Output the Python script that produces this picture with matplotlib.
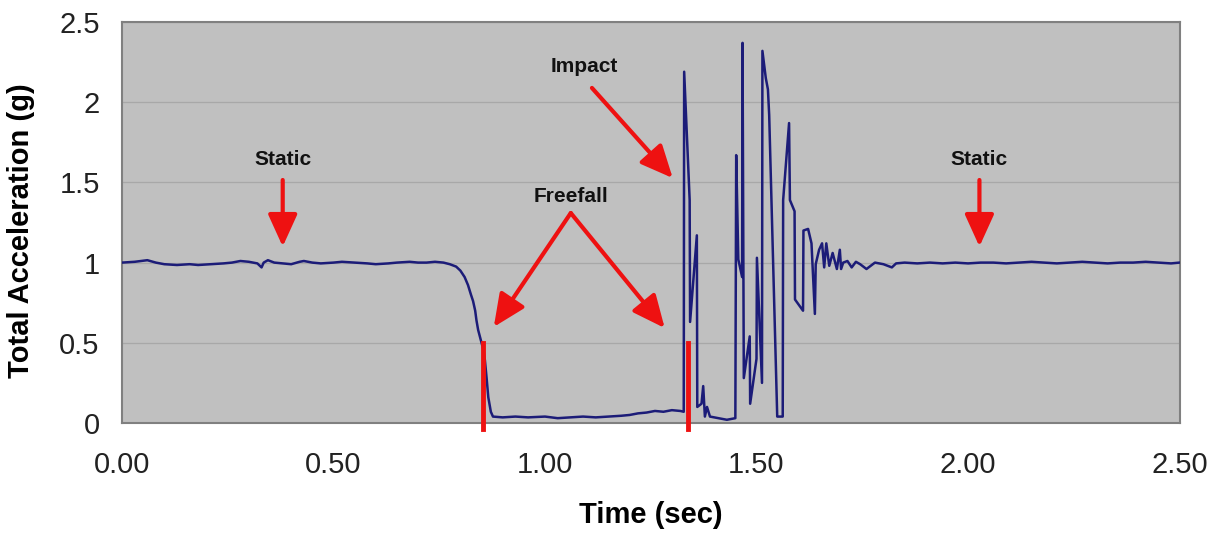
import matplotlib.pyplot as plt

plt.rcParams['font.family'] = ['Liberation Sans', 'DejaVu Sans']

# Datos (tiempo en s, aceleracion total en g)
tiempo = [0.00, 0.03, 0.06, 0.08, 0.10, 0.13, 0.16, 0.18, 0.21, 0.24,
          0.26, 0.28, 0.30, 0.32, 0.33, 0.335, 0.345, 0.36, 0.38, 0.40,
          0.42, 0.43, 0.45, 0.47, 0.50, 0.52, 0.55, 0.58, 0.60, 0.63,
          0.65, 0.68, 0.70, 0.72, 0.74, 0.76, 0.775, 0.79, 0.80, 0.81,
          0.818, 0.825, 0.83, 0.835, 0.838, 0.842, 0.846, 0.85, 0.855, 0.858,
          0.862, 0.866, 0.872, 0.877, 0.90, 0.93, 0.96, 1.00, 1.03, 1.06,
          1.09, 1.12, 1.15, 1.18, 1.20, 1.22, 1.24, 1.26, 1.28, 1.30,
          1.32, 1.328, 1.329, 1.342, 1.343, 1.359, 1.360, 1.370, 1.374, 1.378,
          1.383, 1.39, 1.41, 1.43, 1.45, 1.452, 1.457, 1.466, 1.467, 1.470,
          1.484, 1.485, 1.500, 1.501, 1.513, 1.514, 1.522, 1.527, 1.530, 1.547,
          1.549, 1.562, 1.563, 1.577, 1.579, 1.590, 1.591, 1.610, 1.611, 1.622,
          1.630, 1.638, 1.640, 1.648, 1.655, 1.660, 1.665, 1.672, 1.680, 1.690,
          1.697, 1.700, 1.705, 1.715, 1.725, 1.735, 1.745, 1.76, 1.78, 1.80,
          1.82, 1.83, 1.85, 1.88, 1.91, 1.94, 1.97, 2.00, 2.03, 2.06,
          2.09, 2.12, 2.15, 2.18, 2.21, 2.24, 2.27, 2.30, 2.33, 2.36,
          2.39, 2.42, 2.45, 2.48, 2.50]
aceleracion = [1.00, 1.005, 1.015, 1.00, 0.99, 0.985, 0.99, 0.985, 0.99, 0.995,
               1.00, 1.01, 1.005, 0.995, 0.97, 1.00, 1.015, 1.00, 0.995, 0.99,
               1.005, 1.01, 1.00, 0.995, 1.00, 1.005, 1.00, 0.995, 0.99, 0.995,
               1.00, 1.005, 1.00, 1.00, 1.005, 1.00, 0.99, 0.975, 0.95, 0.91,
               0.86, 0.80, 0.76, 0.70, 0.64, 0.58, 0.54, 0.50, 0.45, 0.39,
               0.28, 0.16, 0.07, 0.04, 0.035, 0.04, 0.035, 0.04, 0.03, 0.035,
               0.04, 0.035, 0.04, 0.045, 0.05, 0.06, 0.065, 0.075, 0.07, 0.08,
               0.075, 0.07, 2.19, 1.39, 0.63, 1.17, 0.10, 0.12, 0.23, 0.04,
               0.10, 0.04, 0.03, 0.02, 0.03, 1.67, 1.02, 0.91, 2.37, 0.28,
               0.54, 0.12, 0.40, 1.03, 0.25, 2.32, 2.15, 2.08, 1.92, 0.25,
               0.04, 0.04, 1.39, 1.87, 1.39, 1.32, 0.77, 0.70, 1.20, 1.21,
               1.12, 0.68, 0.99, 1.08, 1.12, 0.97, 1.12, 0.98, 1.06, 0.96,
               1.08, 0.96, 1.00, 1.01, 0.97, 1.005, 0.99, 0.96, 1.00, 0.99,
               0.97, 0.995, 1.00, 0.995, 1.00, 0.995, 1.00, 0.995, 1.00, 1.00,
               0.995, 1.00, 1.005, 1.00, 0.995, 1.00, 1.005, 1.00, 0.995, 1.00,
               1.00, 1.005, 1.00, 0.995, 1.00]

ticks_x = [0.0, 0.5, 1.0, 1.5, 2.0, 2.5]
etiquetas_x = ['0.00', '0.50', '1.00', '1.50', '2.00', '2.50']
ticks_y = [0, 0.5, 1, 1.5, 2, 2.5]
etiquetas_y = ['0', '0.5', '1', '1.5', '2', '2.5']

# Inicio de caida libre (lineas rojas)
marcas_caida = [0.853, 1.338]

fig = plt.figure(figsize=(12.16, 5.33), dpi=100)
ax = fig.add_axes([0.1003, 0.2064, 0.8697, 0.7523])
ax.set_facecolor('#c0c0c0')

ax.plot(tiempo, aceleracion, color='#1c1c78', lw=1.8, zorder=3)

for t in marcas_caida:
    ax.plot([t, t], [0.5, -0.035], color='#ee1111', lw=3.5, zorder=4, clip_on=False)

ax.set_xlim(0, 2.5)
ax.set_ylim(0, 2.5)
ax.set_xticks(ticks_x)
ax.set_xticklabels(etiquetas_x, fontsize=21)
ax.set_yticks(ticks_y)
ax.set_yticklabels(etiquetas_y, fontsize=21)
ax.tick_params(axis='x', length=0, pad=20, colors='#222222')
ax.tick_params(axis='y', length=0, pad=16, colors='#222222')
ax.grid(axis='y', color='#a8a8a8', lw=0.9)
ax.set_axisbelow(True)
for s in ax.spines.values():
    s.set_color('#808080')
    s.set_linewidth(1.5)

ax.set_xlabel('Time (sec)', fontsize=21, fontweight='bold')
ax.set_ylabel('Total Acceleration (g)', fontsize=21, fontweight='bold')
ax.xaxis.set_label_coords(0.5, -0.195)
ax.yaxis.set_label_coords(-0.082, 0.48)

# Anotaciones con flechas rojas
flecha = dict(arrowstyle='-|>,head_length=1.1,head_width=0.5', color='#ee1111',
              lw=3, mutation_scale=18, shrinkA=0, shrinkB=0)
txt = dict(fontsize=15, fontweight='bold', ha='center', va='center', color='#111111')

ax.text(0.380, 1.64, 'Static', **txt)
ax.annotate('', xy=(0.380, 1.10), xytext=(0.380, 1.515), arrowprops=flecha)
ax.text(2.027, 1.64, 'Static', **txt)
ax.annotate('', xy=(2.027, 1.10), xytext=(2.027, 1.515), arrowprops=flecha)
ax.text(1.092, 2.22, 'Impact', **txt)
ax.annotate('', xy=(1.302, 1.527), xytext=(1.111, 2.089), arrowprops=flecha)
ax.text(1.061, 1.41, 'Freefall', **txt)
ax.annotate('', xy=(0.879, 0.599), xytext=(1.061, 1.309), arrowprops=flecha)
ax.annotate('', xy=(1.283, 0.592), xytext=(1.061, 1.309), arrowprops=flecha)

fig.savefig('out.png', dpi=100)
